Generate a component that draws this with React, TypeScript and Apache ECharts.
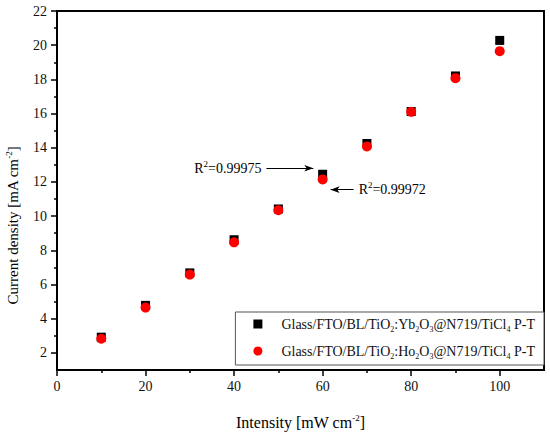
import React, { useEffect, useRef } from 'react';
import * as echarts from 'echarts';

const intensity = [10, 20, 30, 40, 50, 60, 70, 80, 90, 100];
const ybValues = [2.92, 4.78, 6.68, 8.62, 10.42, 12.45, 14.25, 16.12, 18.2, 20.28];
const hoValues = [2.83, 4.65, 6.58, 8.47, 10.35, 12.15, 14.08, 16.1, 18.07, 19.65];

const xLabelValues = [0, 20, 40, 60, 80, 100];
const xMinorValues = [10, 30, 50, 70, 90];
const yLabelValues = [2, 4, 6, 8, 10, 12, 14, 16, 18, 20, 22];
const yMinorValues = [3, 5, 7, 9, 11, 13, 15, 17, 19, 21];

const seriesNames = [
  'Glass/FTO/BL/TiO2:Yb2O3@N719/TiCl4 P-T',
  'Glass/FTO/BL/TiO2:Ho2O3@N719/TiCl4 P-T',
];
const legendRich = [
  'Glass/FTO/BL/TiO{s|2}:Yb{s|2}O{s|3}@N719/TiCl{s|4} P-T',
  'Glass/FTO/BL/TiO{s|2}:Ho{s|2}O{s|3}@N719/TiCl{s|4} P-T',
];
const r2Labels = ['R{p|2}=0.99975', 'R{p|2}=0.99972'];
const xTitle = 'Intensity [mW cm{p|-2}]';
const yTitle = 'Current density [mA cm{p|-2}]';

const FONT = '"Liberation Serif", "DejaVu Serif", serif';

export default function App() {
  const ref = useRef<HTMLDivElement>(null);
  useEffect(() => {
    document.body.style.margin = '0';
    const chart = echarts.init(ref.current!, null, { renderer: 'svg' });
    const supRich = {
      p: { fontSize: 9, verticalAlign: 'top', lineHeight: 9, fontFamily: FONT, color: '#000' },
    };
    const option: any = {
      animation: false,
      backgroundColor: '#fff',
      textStyle: { fontFamily: FONT },
      grid: {
        left: 57,
        right: 6,
        top: 11,
        bottom: 63,
        outerBounds: { left: -100, right: -100, top: -100, bottom: -100 },
        show: true,
        borderColor: '#000',
        borderWidth: 2,
        backgroundColor: 'transparent',
      },
      legend: {
        orient: 'vertical',
        right: 6,
        top: 312,
        backgroundColor: '#fff',
        borderColor: '#555',
        borderWidth: 1,
        borderRadius: 0,
        padding: [4, 9, 5, 18],
        itemWidth: 9,
        itemHeight: 9,
        itemGap: 10,
        selectedMode: false,
        formatter: (name: string) => legendRich[seriesNames.indexOf(name)],
        textStyle: {
          fontFamily: FONT,
          fontSize: 14,
          color: '#111',
          lineHeight: 16,
          padding: [0, 0, 0, 14],
          rich: {
            s: { fontSize: 8, verticalAlign: 'bottom', lineHeight: 8, fontFamily: FONT, color: '#111', padding: [0, 0, -1, 0] },
          },
        },
      },
      xAxis: [
        {
          type: 'value',
          min: 0,
          max: 110,
          interval: 10,
          name: xTitle,
          nameLocation: 'middle',
          nameGap: 43,
          nameTextStyle: { fontFamily: FONT, fontSize: 16, color: '#000', lineHeight: 18, rich: supRich },
          axisLine: { show: true, lineStyle: { color: '#000', width: 2 } },
          axisTick: { show: true, length: 6, inside: false, customValues: xLabelValues, lineStyle: { color: '#000', width: 1.5 } },
          axisLabel: { show: true, customValues: xLabelValues, margin: 9, fontFamily: FONT, fontSize: 14, color: '#111' },
          splitLine: { show: false },
        },
        {
          type: 'value',
          min: 0,
          max: 110,
          interval: 10,
          position: 'bottom',
          axisLine: { show: false },
          axisTick: { show: true, length: 3, customValues: xMinorValues, lineStyle: { color: '#000', width: 1.5 } },
          axisLabel: { show: false },
          splitLine: { show: false },
        },
      ],
      yAxis: [
        {
          type: 'value',
          min: 1,
          max: 22,
          interval: 1,
          name: yTitle,
          nameLocation: 'middle',
          nameGap: 32,
          nameTextStyle: {
            fontFamily: FONT,
            fontSize: 15,
            color: '#000',
            lineHeight: 18,
            padding: [0, 70, 0, 0],
            rich: supRich,
          },
          axisLine: { show: true, lineStyle: { color: '#000', width: 2 } },
          axisTick: { show: true, length: 6, customValues: yLabelValues, lineStyle: { color: '#000', width: 1.5 } },
          axisLabel: { show: true, customValues: yLabelValues, margin: 10, fontFamily: FONT, fontSize: 14, color: '#111' },
          splitLine: { show: false },
        },
        {
          type: 'value',
          min: 1,
          max: 22,
          interval: 1,
          position: 'left',
          axisLine: { show: false },
          axisTick: { show: true, length: 3, customValues: yMinorValues, lineStyle: { color: '#000', width: 1.5 } },
          axisLabel: { show: false },
          splitLine: { show: false },
        },
      ],
      series: [
        {
          name: seriesNames[0],
          type: 'scatter',
          symbol: 'rect',
          symbolSize: 9,
          itemStyle: { color: '#000', opacity: 1 },
          data: intensity.map((x, i) => [x, ybValues[i]]),
          markLine: {
            silent: true,
            symbol: ['none', 'arrow'],
            symbolSize: [5, 9],
            lineStyle: { color: '#000', width: 1, type: 'solid' },
            label: {
              show: true,
              position: 'start',
              distance: 5,
              fontFamily: FONT,
              fontSize: 14,
              color: '#000',
              lineHeight: 18,
              rich: supRich,
            },
            data: [
              [
                { coord: [47.3, 12.8], label: { formatter: r2Labels[0] } },
                { coord: [57.9, 12.8] },
              ],
              [
                { coord: [67.0, 11.55], label: { formatter: r2Labels[1] } },
                { coord: [61.8, 11.55] },
              ],
            ],
          },
        },
        {
          name: seriesNames[1],
          type: 'scatter',
          symbol: 'circle',
          symbolSize: 10,
          itemStyle: { color: '#ff0000', opacity: 1 },
          data: intensity.map((x, i) => [x, hoValues[i]]),
        },
      ],
    };
    chart.setOption(option);
    return () => chart.dispose();
  }, []);
  return <div ref={ref} style={{ width: 550, height: 433 }} />;
}
